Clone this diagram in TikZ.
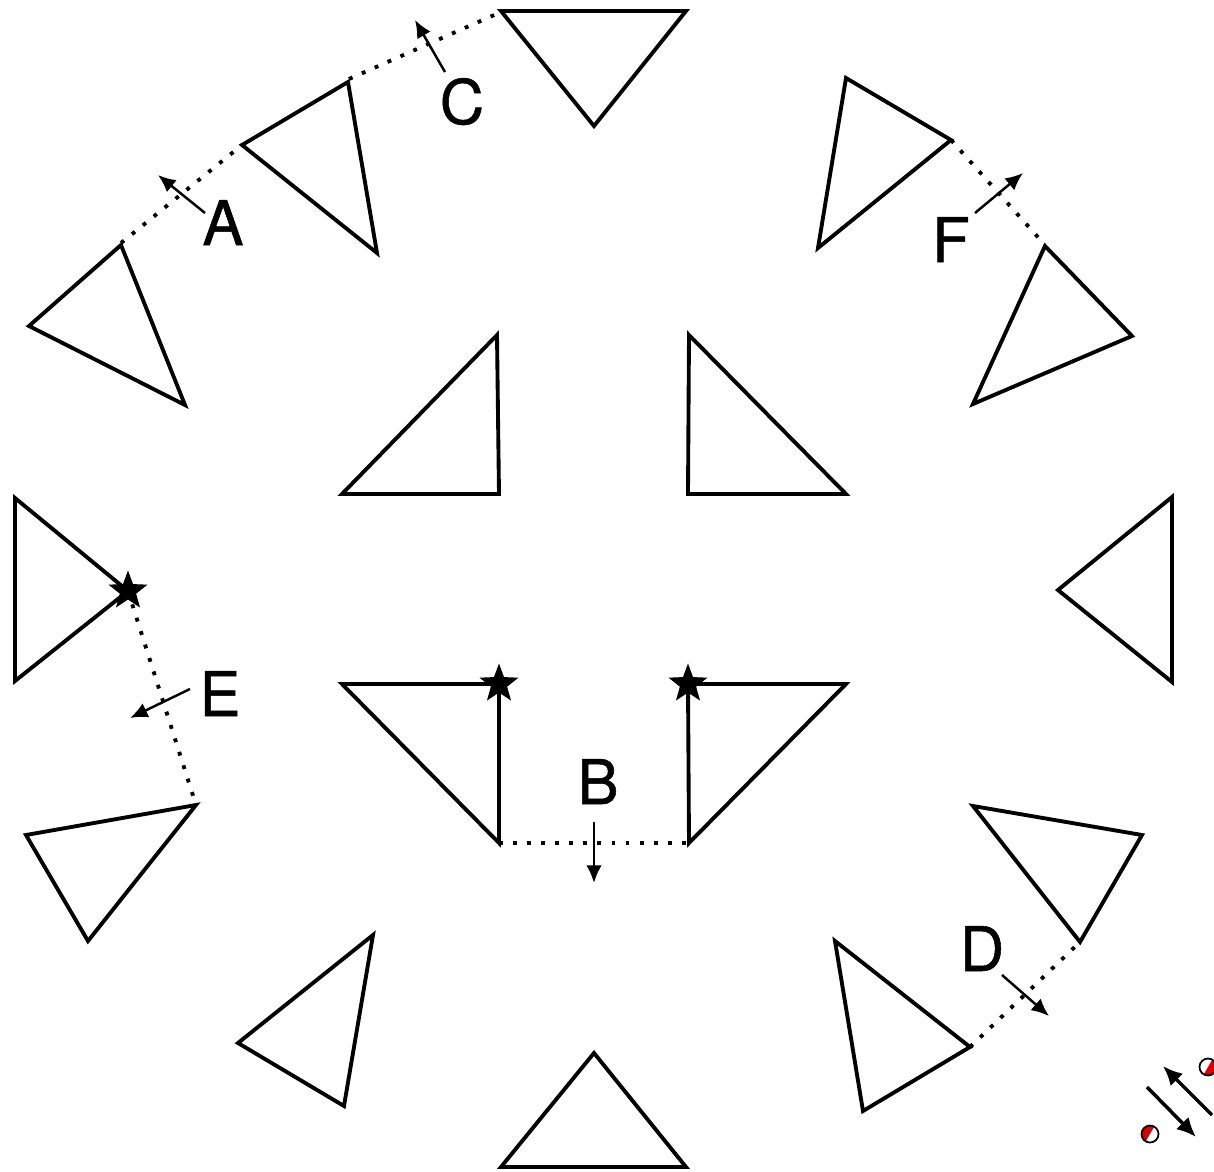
\documentclass[tikz,border=0pt]{standalone}
\usepackage{fontspec}
\setmainfont{TeX Gyre Heros}
\newfontfamily\letterfont{TeX Gyre Heros}[FakeBold=0.8]
\usepackage{tikz}
\usetikzlibrary{shapes.geometric,arrows.meta}

\begin{document}
\begin{tikzpicture}[
  x=0.01cm, y=-0.01cm,
  tri/.style={draw, line width=1.1pt, line join=miter},
  dotline/.style={line width=1.1pt, dash pattern=on 1.1pt off 2.9pt},
  dirarrow/.style={line width=0.7pt, -{Latex[length=5pt,width=4.4pt]}},
  bigarrow/.style={line width=1pt, -{Latex[length=5.5pt,width=5pt]}},
  letter/.style={anchor=base, inner sep=0pt,
    font=\letterfont\fontsize{17.5}{20}\selectfont},
  starmark/.style={star, star points=5, star point ratio=2.4, fill=black,
    inner sep=0pt, minimum size=0.41cm},
]
\useasboundingbox (0,0) rectangle (1214,1172);

% outer ring
\draw[tri] (501,11) -- (686,11) -- (594,126) -- cycle;
\draw[tri] (242,145) -- (348,82) -- (377,253) -- cycle;
\draw[tri] (29,326) -- (121,245) -- (185,405) -- cycle;
\draw[tri] (846,78) -- (951,140) -- (818,248) -- cycle;
\draw[tri] (1045,246) -- (1132,336) -- (973,404) -- cycle;
\draw[tri] (1058,590) -- (1172,497) -- (1172,682) -- cycle;
\draw[tri] (15,498) -- (128,591) -- (15,681) -- cycle;
\draw[tri] (26,835) -- (196,805) -- (88,941) -- cycle;
\draw[tri] (238,1043) -- (373,935) -- (344,1106) -- cycle;
\draw[tri] (501,1167) -- (686,1167) -- (594,1053) -- cycle;
\draw[tri] (835,941) -- (970,1047) -- (863,1111) -- cycle;
\draw[tri] (973,806) -- (1142,835) -- (1080,942) -- cycle;

% inner four
\draw[tri] (342,494) -- (497,335) -- (499,494) -- cycle;
\draw[tri] (689,335) -- (846,494) -- (688,494) -- cycle;
\draw[tri] (342,684) -- (499,684) -- (499,843) -- cycle;
\draw[tri] (846,684) -- (688,684) -- (689,843) -- cycle;

\coordinate (a0) at (121,243);
\coordinate (a1) at (242,145);
\coordinate (c0) at (349,79);
\coordinate (c1) at (501,12);
\coordinate (f0) at (951,140);
\coordinate (f1) at (1045,245);
\coordinate (d0) at (970,1047);
\coordinate (d1) at (1080,942);
\coordinate (e1) at (196,805);
\coordinate (b0) at (499,843);
\coordinate (b1) at (689,843);

\node[starmark] (sE) at (128,591) {};
\node[starmark] (sL) at (499,684) {};
\node[starmark] (sR) at (688,684) {};

\draw[dotline] (a0) -- (a1);
\draw[dotline] (c0) -- (c1);
\draw[dotline] (f0) -- (f1);
\draw[dotline] (d0) -- (d1);
\draw[dotline] (sE.center) -- (e1);
\draw[dotline] (b0) -- (b1);

\node[letter] (lA) at (223,245) {A};
\node[letter] (lC) at (462,124) {C};
\node[letter] (lF) at (951,262) {F};
\node[letter] (lD) at (982,971) {D};
\node[letter] (lE) at (220,716) {E};
\node[letter] (lB) at (598,804) {B};

\coordinate (aA0) at (205,213); \coordinate (aA1) at (158,175);
\coordinate (aC0) at (445,72);  \coordinate (aC1) at (415,20);
\coordinate (aF0) at (975,213); \coordinate (aF1) at (1023,173);
\coordinate (aD0) at (1002,975); \coordinate (aD1) at (1049,1016);
\coordinate (aE0) at (190,689); \coordinate (aE1) at (130,718);
\coordinate (aB0) at (594,822); \coordinate (aB1) at (594,883);
\draw[dirarrow] (aA0) -- (aA1);
\draw[dirarrow] (aC0) -- (aC1);
\draw[dirarrow] (aF0) -- (aF1);
\draw[dirarrow] (aD0) -- (aD1);
\draw[dirarrow] (aE0) -- (aE1);
\draw[dirarrow] (aB0) -- (aB1);

\coordinate (k0) at (1212,1115); \coordinate (k1) at (1163,1066);
\coordinate (m0) at (1147,1087); \coordinate (m1) at (1196,1137);
\draw[bigarrow] (k0) -- (k1);
\draw[bigarrow] (m0) -- (m1);

\coordinate (p1) at (1150,1134);
\coordinate (p2) at (1208,1067);
\fill[red!85!black] (p1) ++(60:0.085cm) arc[start angle=60, end angle=240, radius=0.085cm] -- cycle;
\draw[line width=0.5pt] (p1) circle[radius=0.085cm];
\fill[red!85!black] (p2) ++(240:0.085cm) arc[start angle=240, end angle=420, radius=0.085cm] -- cycle;
\draw[line width=0.5pt] (p2) circle[radius=0.085cm];

\end{tikzpicture}
\end{document}
